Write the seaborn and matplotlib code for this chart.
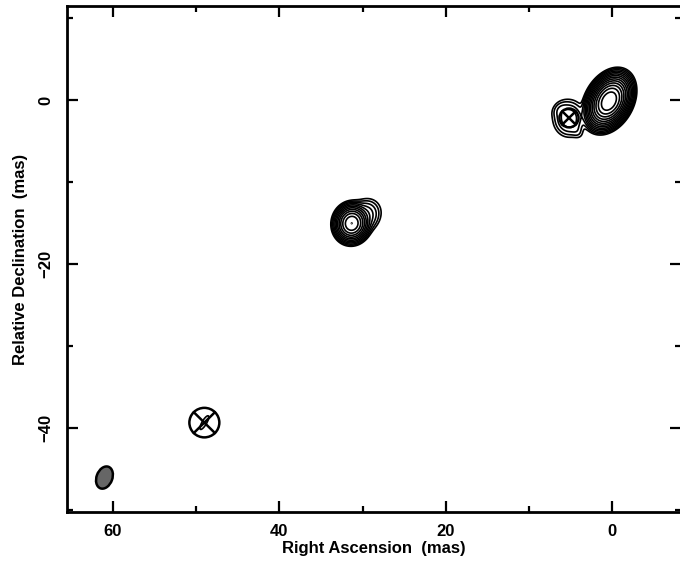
import numpy as np
import pandas as pd
import seaborn as sns
import matplotlib
matplotlib.use("Agg")
import matplotlib.pyplot as plt
from matplotlib.patches import Ellipse, Circle

# ---- data: Gaussian brightness components (mas, relative flux) ----
comp_ra    = [0.4,  5.2,  6.3,  4.3,  31.3, 29.9, 49.0]
comp_dec   = [-0.1, -2.2, -1.1, -3.7, -15.0, -14.2, -39.3]
comp_peak  = [16384, 14,  2.2,  1.8,  2048, 18,   1.45]
comp_smaj  = [1.0,   1.0,  0.6,  0.6,  0.72, 1.0,  1.1]
comp_smin  = [0.68,  0.85, 0.45, 0.4, 0.64, 0.8,  0.32]
comp_pa    = [-28,   0,   -40,   30,  -10,  -40,  -30]

# model-fit components (circles with crosses)
mod_ra  = [5.2, 49.0]
mod_dec = [-2.15, -39.3]
mod_rad = [1.15, 1.8]

# restoring beam
beam_ra, beam_dec = 61.0, -46.0
beam_maj, beam_min, beam_pa = 2.8, 1.9, 20

levels = [2.0 ** k for k in range(0, 15)]

xlim = (65.5, -8.3)
ylim = (-50.2, 11.5)

sns.set_style("ticks")
plt.rcParams['font.family'] = ['Liberation Sans', 'DejaVu Sans']
plt.rcParams['text.color'] = 'black'
plt.rcParams['xtick.labelcolor'] = 'black'
plt.rcParams['ytick.labelcolor'] = 'black'
plt.rcParams['axes.labelcolor'] = 'black'

fig = plt.figure(figsize=(6.8, 5.62), dpi=100)
ax = fig.add_axes([67/680, 1-512/562, 1.002-67/680, (512-6)/562])

ra = np.linspace(-10, 67, 1600)
dec = np.linspace(-52, 13, 1400)
RA, DEC = np.meshgrid(ra, dec)
img = np.zeros_like(RA)
df = pd.DataFrame(dict(ra=comp_ra, dec=comp_dec, peak=comp_peak,
                       smaj=comp_smaj, smin=comp_smin, pa=comp_pa))
for _, c in df.iterrows():
    t = np.deg2rad(c.pa)
    dx = RA - c.ra
    dy = DEC - c.dec
    u = dx * np.sin(t) + dy * np.cos(t)
    v = dx * np.cos(t) - dy * np.sin(t)
    img += c.peak * np.exp(-0.5 * ((u / c.smaj) ** 2 + (v / c.smin) ** 2))

ax.contour(RA, DEC, img, levels=levels, colors="black", linewidths=1.2)

for r0, d0, rr in zip(mod_ra, mod_dec, mod_rad):
    ax.add_patch(Circle((r0, d0), rr, fill=False, ec="black", lw=1.8))
    k = rr / np.sqrt(2)
    ax.plot([r0 - k, r0 + k], [d0 - k, d0 + k], color="black", lw=1.8)
    ax.plot([r0 - k, r0 + k], [d0 + k, d0 - k], color="black", lw=1.8)

ax.add_patch(Ellipse((beam_ra, beam_dec), beam_min, beam_maj, angle=beam_pa,
                     fc="#666666", ec="black", lw=1.8))

ax.set_xlim(*xlim)
ax.set_ylim(*ylim)
ax.set_xticks([60, 40, 20, 0])
ax.set_xticks([50, 30, 10], minor=True)
ax.set_yticks([0, -20, -40])
ax.set_yticks([10, -10, -30, -50], minor=True)
ax.tick_params(which="both", direction="in", top=True, right=True, width=1.6,
               color="black", labelsize=12)
ax.tick_params(which="major", length=8)
ax.tick_params(which="minor", length=4.5)
ax.tick_params(axis="x", pad=9)
ax.tick_params(axis="y", pad=10)
for lab in ax.get_xticklabels() + ax.get_yticklabels():
    lab.set_fontweight("bold")
for lab in ax.get_yticklabels():
    lab.set_rotation(90)
    lab.set_va("center")
for s in ax.spines.values():
    s.set_linewidth(2.0)
    s.set_color("black")

ax.set_xlabel("Right Ascension  (mas)", fontsize=12, fontweight="bold", labelpad=1)
ax.set_ylabel("Relative Declination  (mas)", fontsize=12, fontweight="bold", labelpad=7)

fig.savefig("out.png", dpi=100)
